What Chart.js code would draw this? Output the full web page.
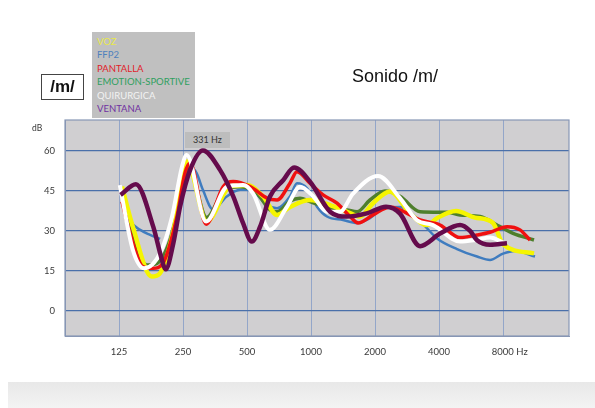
<!DOCTYPE html>
<html>
<head>
<meta charset="utf-8">
<script src="https://cdn.jsdelivr.net/npm/chart.js@4.4.0/dist/chart.umd.min.js"></script>
<style>
  body { margin: 0; background: #fff; }
  #wrap { position: relative; width: 595px; height: 408px; overflow: hidden; font-family: Lato, "Open Sans", sans-serif; }
  #chart { position: absolute; left: 0; top: 0; }
  .legend { position: absolute; left: 92px; top: 32px; width: 98px; height: 83px; background: #c0c0c0; padding: 3px 0 0 5px; font-size: 9.5px; line-height: 13.4px; }
  .mbox { position: absolute; left: 41px; top: 74px; width: 41px; height: 24px; border: 1px solid #444; font: bold 17px "Liberation Sans", Arial, sans-serif; text-align: center; line-height: 24px; color: #111; }
  .title { position: absolute; left: 352px; top: 66px; font: 18px "Liberation Sans", Arial, sans-serif; color: #111; }
  .db { position: absolute; left: 32px; top: 123px; font-size: 8.5px; color: #333; }
  .hz { position: absolute; left: 185px; top: 132px; width: 45px; height: 16px; background: #bdbdbd; font-size: 9px; line-height: 16px; text-align: center; color: #333; }
  .band { position: absolute; left: 8px; top: 382px; width: 587px; height: 26px; background: linear-gradient(#e8e8e8, #f3f3f3); }
</style>
</head>
<body>
<div id="wrap">
  <canvas id="chart" width="595" height="408"></canvas>
  <div class="legend" id="legend"></div>
  <div class="mbox">/m/</div>
  <div class="title">Sonido /m/</div>
  <div class="db">dB</div>
  <div class="hz">331 Hz</div>
  <div class="band"></div>
</div>
<script>
// frequency (Hz), level (dB)
let voz = [[129,46.6],[145,31.6],[178,12.9],[195,14.2],[224,29.2],[247,48],[261,56],[323,33.5],[416,46.6],[500,47.2],[595,42.9],[692,36],[797,39],[989,41.6],[1229,39.7],[1476,37.2],[1700,35.4],[1957,40.4],[2353,44.8],[2922,36.6],[3513,32.2],[3915,34.8],[4809,37.5],[5908,35],[7180,33],[8000,25],[11191,21.6]];
let ffp2 = [[129,44.1],[141,34.1],[157,30.4],[175,28.5],[195,27],[230,null],[270,54.7],[290,51.6],[310,45.4],[346,38],[401,42.9],[464,45.4],[517,45.4],[621,39.7],[692,38.5],[797,43],[859,47.9],[958,46],[1067,39.1],[1189,35.4],[1414,34.1],[1646,33],[1894,34.8],[2181,38.5],[2622,39],[3364,32.5],[3915,27.2],[4861,23.2],[6038,20.4],[6950,19.1],[8000,21.5],[9109,22.5],[11313,20.4]];
let pantalla = [[129,41],[141,29],[162,16.6],[181,16],[201,17.9],[234,35.4],[255,51.6],[270,55.5],[321,32.5],[386,46.6],[430,48.5],[517,46.6],[621,42.3],[692,41.6],[797,48],[859,52.2],[989,47.9],[1139,43.5],[1325,40.4],[1526,35.4],[1664,33],[1957,36],[2353,39],[2622,37.9],[3256,34.1],[4044,32.2],[5021,27.5],[6038,28.5],[6950,29.5],[8354,31.6],[9616,30.4],[10718,26.6]];
let emotion = [[129,44.1],[138,35.4],[152,22.9],[169,17.2],[189,17.9],[217,26.6],[242,41.6],[267,53.5],[323,35],[386,44.8],[464,46.6],[557,44.1],[641,37.9],[692,37.2],[797,41.2],[888,42.3],[989,41],[1229,38.5],[1476,37.9],[1646,37.2],[1894,41.6],[2229,45],[2622,43],[3256,37.2],[4362,37],[5021,36],[6237,35.4],[7745,31.6],[8914,29.1],[11191,26.6]];
let quirurgica = [[126,47.2],[145,23],[164,16],[195,21.7],[222,35.4],[247,54],[260,58.5],[321,33.5],[403,46.6],[479,47.2],[534,44],[641,30.4],[771,39.1],[888,46.6],[1022,43],[1189,37.2],[1369,37.2],[1576,44],[2066,50.6],[2622,42.3],[3152,34],[3749,32.2],[5021,26],[5972,26.6],[6950,27.5],[8088,25.5]];
let ventana = [[127,43.5],[150,47.5],[181,31.6],[199,19.1],[207,15.6],[225,25.4],[242,39.1],[270,52.9],[310,60.2],[373,52.9],[431,42.9],[479,32.9],[526,26],[576,31.6],[641,42.9],[741,49.1],[832,53.8],[989,48.5],[1229,37.2],[1472,35.4],[1828,36.6],[2253,39.1],[2622,36.5],[3256,24.3],[4044,29],[5021,32.2],[5600,30],[6040,26.5],[6950,24.8],[8354,25.4]];

let names = ['VOZ', 'FFP2', 'PANTALLA', 'EMOTION-SPORTIVE', 'QUIRURGICA', 'VENTANA'];
let series = [voz, ffp2, pantalla, emotion, quirurgica, ventana];
let lineColors = ['#f5f500', '#3f7cbf', '#f01010', '#4e7f2c', '#ffffff', '#650b4c'];
let legendColors = ['#e8e84a', '#4f81bd', '#e0202a', '#2f9f5f', '#f2f2f2', '#7030a0'];
let widths = [4.5, 2.5, 3.5, 3.5, 4, 4.5];
let orders = [3, 5, 2, 4, 1, 0];

let tickHz = [125, 250, 500, 1000, 2000, 4000, 8000];
let tickLabels = ['125', '250', '500', '1000', '2000', '4000', '8000 Hz'];
let tickDb = [0, 15, 30, 45, 60];

// legend box
let lg = document.getElementById('legend');
names.forEach(function (n, i) {
  let d = document.createElement('div');
  d.textContent = n;
  d.style.color = legendColors[i];
  lg.appendChild(d);
});

let datasets = series.map(function (s, i) {
  return {
    label: names[i],
    data: s.map(function (p) { return { x: p[0], y: p[1] }; }),
    borderColor: lineColors[i],
    borderWidth: widths[i],
    backgroundColor: 'transparent',
    pointRadius: 0,
    cubicInterpolationMode: 'monotone',
    spanGaps: false,
    order: orders[i]
  };
});

// grey plot area + frame
let plotBox = {
  id: 'plotBox',
  beforeDraw: function (c) {
    let a = c.chartArea, ctx = c.ctx;
    ctx.save();
    ctx.fillStyle = '#d0cfd1';
    ctx.fillRect(a.left, a.top, a.right - a.left, a.bottom - a.top);
    ctx.restore();
  },
  afterDraw: function (c) {
    let a = c.chartArea, ctx = c.ctx;
    ctx.save();
    ctx.strokeStyle = '#8797b5';
    ctx.lineWidth = 1.2;
    ctx.strokeRect(a.left, a.top, a.right - a.left, a.bottom - a.top);
    ctx.restore();
  }
};

let ctx = document.getElementById('chart').getContext('2d');
let chart = new Chart(ctx, {
  type: 'line',
  data: { datasets: datasets },
  options: {
    responsive: false,
    animation: false,
    layout: { padding: { top: 120, right: 26, bottom: 0, left: 0 } },
    plugins: { legend: { display: false }, tooltip: { enabled: false } },
    scales: {
      x: {
        type: 'logarithmic',
        min: 69.6,
        max: 16350,
        afterBuildTicks: function (s) { s.ticks = tickHz.map(function (v) { return { value: v }; }); },
        afterFit: function (s) { s.height = 72; },
        ticks: {
          autoSkip: false,
          maxRotation: 0,
          padding: 10,
          color: '#3a3a3a',
          font: { family: 'Lato', size: 9.5 },
          callback: function (v, i) {
            // keep the number centred on its grid line, "Hz" hangs to the right
            return i === tickLabels.length - 1 ? '\u2007\u2007 ' + tickLabels[i] : tickLabels[i];
          }
        },
        grid: { color: '#93a6c9', lineWidth: 1, drawTicks: false },
        border: { color: '#8797b5' }
      },
      y: {
        min: -9.4,
        max: 71.6,
        afterBuildTicks: function (s) { s.ticks = tickDb.map(function (v) { return { value: v }; }); },
        afterFit: function (s) { s.width = 65; },
        ticks: {
          padding: 10,
          color: '#3a3a3a',
          font: { family: 'Lato', size: 9.5 }
        },
        grid: { color: '#4a70aa', lineWidth: 1.3, drawTicks: false },
        border: { color: '#8797b5' }
      }
    }
  },
  plugins: [plotBox]
});
</script>
</body>
</html>
